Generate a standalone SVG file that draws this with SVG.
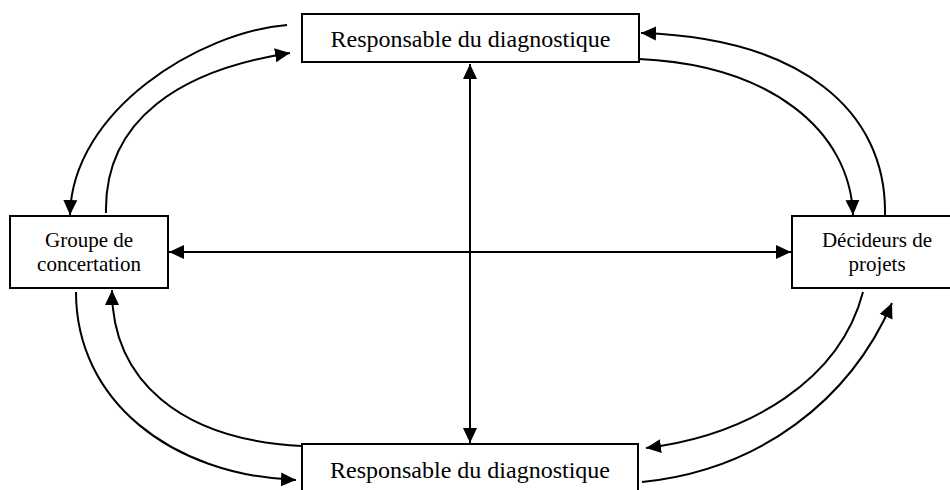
<svg xmlns="http://www.w3.org/2000/svg" width="950" height="490" viewBox="0 0 950 490">
  <style>
    .box { fill: #ffffff; stroke: #000000; stroke-width: 2; }
    .lbl { font-family: "Liberation Serif", "Times New Roman", serif; fill: #000000; text-anchor: middle; }
    .big { font-size: 24px; }
    .small { font-size: 21px; }
    .link { fill: none; stroke: #000000; stroke-width: 2; }
    .one { marker-end: url(#head); }
    .two { marker-start: url(#head); marker-end: url(#head); }
  </style>
  <defs>
    <marker id="head" markerUnits="userSpaceOnUse" markerWidth="16" markerHeight="16" viewBox="0 0 16 16" refX="15" refY="8" orient="auto-start-reverse">
      <path d="M0,1 L15,8 L0,15 Z" fill="#000000"/>
    </marker>
  </defs>
  <rect width="950" height="490" fill="#ffffff"/>

  <g id="connectors">
    <!-- cross between the four actors -->
    <path class="link two" d="M470,64 L470,443"/>
    <path class="link two" d="M169,252 L791,252"/>
    <!-- top left pair -->
    <path class="link one" d="M287,25 C200,32 72,110 70,215"/>
    <path class="link one" d="M106,213 C104,120 180,70 290,53"/>
    <!-- top right pair -->
    <path class="link one" d="M885,215 C887,110 800,38 641,33"/>
    <path class="link one" d="M639,59 C770,65 850,130 853,215"/>
    <!-- bottom left pair -->
    <path class="link one" d="M76,292 C76,400 170,475 296,480"/>
    <path class="link one" d="M302,446 C180,440 112,380 112,290"/>
    <!-- bottom right pair -->
    <path class="link one" d="M863,292 C840,380 750,435 646,448"/>
    <path class="link one" d="M642,482 C760,470 850,400 892,303"/>
  </g>

  <g id="node-top">
    <rect class="box" x="302" y="14" width="337" height="48"/>
    <text class="lbl big" x="470.5" y="47">Responsable du diagnostique</text>
  </g>

  <g id="node-left">
    <rect class="box" x="10" y="216" width="158" height="72"/>
    <text class="lbl small" x="89" y="247">Groupe de</text>
    <text class="lbl small" x="89" y="271">concertation</text>
  </g>

  <g id="node-right">
    <rect class="box" x="792" y="216" width="170" height="72"/>
    <text class="lbl small" x="877" y="247">Décideurs de</text>
    <text class="lbl small" x="877" y="271">projets</text>
  </g>

  <g id="node-bottom">
    <rect class="box" x="302" y="444" width="336" height="60"/>
    <text class="lbl big" x="470" y="478">Responsable du diagnostique</text>
  </g>
</svg>
